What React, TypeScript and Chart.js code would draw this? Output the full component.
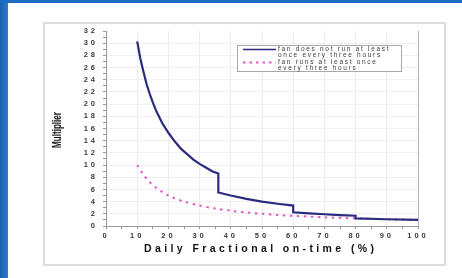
import React, { useEffect, useRef } from "react";
import { Chart, registerables } from "chart.js";

Chart.register(...registerables);

// ---- data ----
const solidX = [10, 11, 12, 13, 14, 15, 16, 18, 20, 22, 24, 26, 28, 30, 32, 34, 36, 36, 40, 45, 50, 55, 60, 60, 65, 70, 75, 80, 80, 90, 100];
const solidY = [30.3, 27.5, 25.3, 23.3, 21.7, 20.3, 19.0, 16.9, 15.3, 13.9, 12.7, 11.8, 10.9, 10.2, 9.6, 9.0, 8.6, 5.5, 5.0, 4.45, 4.0, 3.65, 3.35, 2.25, 2.08, 1.93, 1.8, 1.68, 1.25, 1.11, 1.0];
const dashedX = [10, 12, 14, 16, 18, 20, 25, 30, 35, 40, 45, 50, 55, 60, 70, 80, 90, 100];
const dashedY = [10, 8.4, 7.2, 6.3, 5.6, 5.0, 4.0, 3.35, 2.87, 2.5, 2.22, 2.0, 1.82, 1.67, 1.43, 1.25, 1.11, 1.0];
const seriesLabels = [
  "fan does not run at least once every three hours",
  "fan runs at least once every three hours",
];
const legendLines = [
  ["fan does not run at least", "once every three hours"],
  ["fan runs at least once", "every three hours"],
];
const xTitle = "Daily Fractional on-time (%)";
const yTitle = "Multiplier";
const xRange = [0, 100];
const yRange = [0, 32];

const W = 462;
const H = 278;
const FONT = "'Liberation Sans', Arial, sans-serif";
const SOLID = "#2b2b7e";
const DASH = "#e05cc0";

const framePlugin = {
  id: "frame",
  beforeDraw(chart: any) {
    const ctx = chart.ctx as CanvasRenderingContext2D;
    ctx.save();
    (ctx as any).letterSpacing = "0px";
    ctx.fillStyle = "#ffffff";
    ctx.fillRect(0, 0, W, H);
    const g = ctx.createLinearGradient(0, 0, 8, 0);
    g.addColorStop(0, "#1b5fb0");
    g.addColorStop(1, "#2a7bd2");
    ctx.fillStyle = g;
    ctx.fillRect(0, 0, 8, H);
    ctx.fillStyle = "#1f6cc4";
    ctx.fillRect(0, 0, W, 3);
    ctx.strokeStyle = "#dcdcdc";
    ctx.lineWidth = 2;
    ctx.strokeRect(44, 23, 401, 242);
    ctx.restore();
    (ctx as any).letterSpacing = "3px";
  },
  afterDraw(chart: any) {
    const ctx = chart.ctx as CanvasRenderingContext2D;
    (ctx as any).letterSpacing = "0px";
    ctx.save();
    // x title
    ctx.fillStyle = "#111";
    ctx.font = `bold 10.5px ${FONT}`;
    (ctx as any).letterSpacing = "3.4px";
    ctx.textAlign = "center";
    ctx.textBaseline = "middle";
    ctx.fillText(xTitle, 260.7, 249);
    // y title
    (ctx as any).letterSpacing = "0px";
    ctx.save();
    ctx.translate(57, 130);
    ctx.rotate(-Math.PI / 2);
    ctx.scale(0.62, 1);
    ctx.font = `bold 13px ${FONT}`;
    ctx.fillText(yTitle, 0, 0);
    ctx.restore();
    // legend
    ctx.fillStyle = "#ffffff";
    ctx.fillRect(237, 45, 164, 26);
    ctx.strokeStyle = "#a8a8a8";
    ctx.lineWidth = 1;
    ctx.strokeRect(237.5, 45.5, 164, 26);
    ctx.lineWidth = 1.6;
    ctx.strokeStyle = SOLID;
    ctx.beginPath();
    ctx.moveTo(243, 49.5);
    ctx.lineTo(276, 49.5);
    ctx.stroke();
    ctx.strokeStyle = DASH;
    ctx.lineWidth = 1.8;
    ctx.setLineDash([2.5, 4]);
    ctx.beginPath();
    ctx.moveTo(243, 62.5);
    ctx.lineTo(276, 62.5);
    ctx.stroke();
    ctx.setLineDash([]);
    ctx.font = `6.5px ${FONT}`;
    (ctx as any).letterSpacing = "1.7px";
    ctx.textAlign = "left";
    ctx.fillStyle = "#3a3a3a";
    const rows = [49.5, 55, 62.5, 68];
    ctx.fillText(legendLines[0][0], 278, rows[0]);
    ctx.fillText(legendLines[0][1], 278, rows[1]);
    ctx.fillText(legendLines[1][0], 278, rows[2]);
    ctx.fillText(legendLines[1][1], 278, rows[3]);
    ctx.restore();
    (ctx as any).letterSpacing = "0px";
  },
};

export default function App() {
  const ref = useRef<HTMLCanvasElement>(null);
  useEffect(() => {
    document.body.style.margin = "0";
    const chart = new Chart(ref.current as HTMLCanvasElement, {
      type: "line",
      data: {
        datasets: [
          {
            label: seriesLabels[0],
            data: solidX.map((x, i) => ({ x, y: solidY[i] })),
            borderColor: SOLID,
            borderWidth: 2.2,
            pointRadius: 0,
            tension: 0,
            fill: false,
          },
          {
            label: seriesLabels[1],
            data: dashedX.map((x, i) => ({ x, y: dashedY[i] })),
            borderColor: DASH,
            borderWidth: 2,
            borderDash: [2.5, 4.5],
            pointRadius: 0,
            tension: 0.3,
            fill: false,
          },
        ],
      },
      options: {
        animation: false,
        responsive: false,
        devicePixelRatio: 1,
        layout: { padding: { left: 0, top: 31, right: 44, bottom: 0 } },
        plugins: { legend: { display: false }, tooltip: { enabled: false } },
        scales: {
          x: {
            type: "linear",
            min: xRange[0],
            max: xRange[1],
            ticks: {
              stepSize: 5,
              autoSkip: false,
              maxRotation: 0,
              padding: 2,
              color: "#3a3a3a",
              font: { size: 7.5, weight: "bold", family: FONT },
              callback: (v: any) => (Number(v) % 10 === 0 ? String(v) : ""),
            },
            grid: {
              color: (c: any) => {
                const v = c.tick ? c.tick.value : 0;
                if (v === 100) return "#b5b5b5";
                return v % 10 === 0 ? "#ededed" : "rgba(0,0,0,0)";
              },
              tickColor: "#9a9a9a",
              tickLength: 3,
            },
            border: { color: "#9a9a9a", width: 1 },
            afterFit: (s: any) => {
              s.height = 52;
            },
          },
          y: {
            type: "linear",
            min: yRange[0],
            max: yRange[1],
            ticks: {
              stepSize: 1,
              autoSkip: false,
              padding: 5,
              color: "#3a3a3a",
              font: { size: 7.5, weight: "bold", family: FONT },
              callback: (v: any) => (Number(v) % 2 === 0 ? String(v) : ""),
            },
            grid: {
              color: (c: any) => {
                const v = c.tick ? c.tick.value : 0;
                if (v === 32) return "rgba(0,0,0,0)";
                return v % 2 === 0 ? "#f0f0f0" : "rgba(0,0,0,0)";
              },
              tickColor: "#9a9a9a",
              tickLength: 3,
            },
            border: { color: "#9a9a9a", width: 1 },
            afterFit: (s: any) => {
              s.width = 106;
            },
          },
        },
      },
      plugins: [framePlugin],
    } as any);
    return () => chart.destroy();
  }, []);
  return (
    <div style={{ width: W, height: H, position: "relative" }}>
      <canvas ref={ref} width={W} height={H} style={{ display: "block", width: W, height: H }} />
    </div>
  );
}
